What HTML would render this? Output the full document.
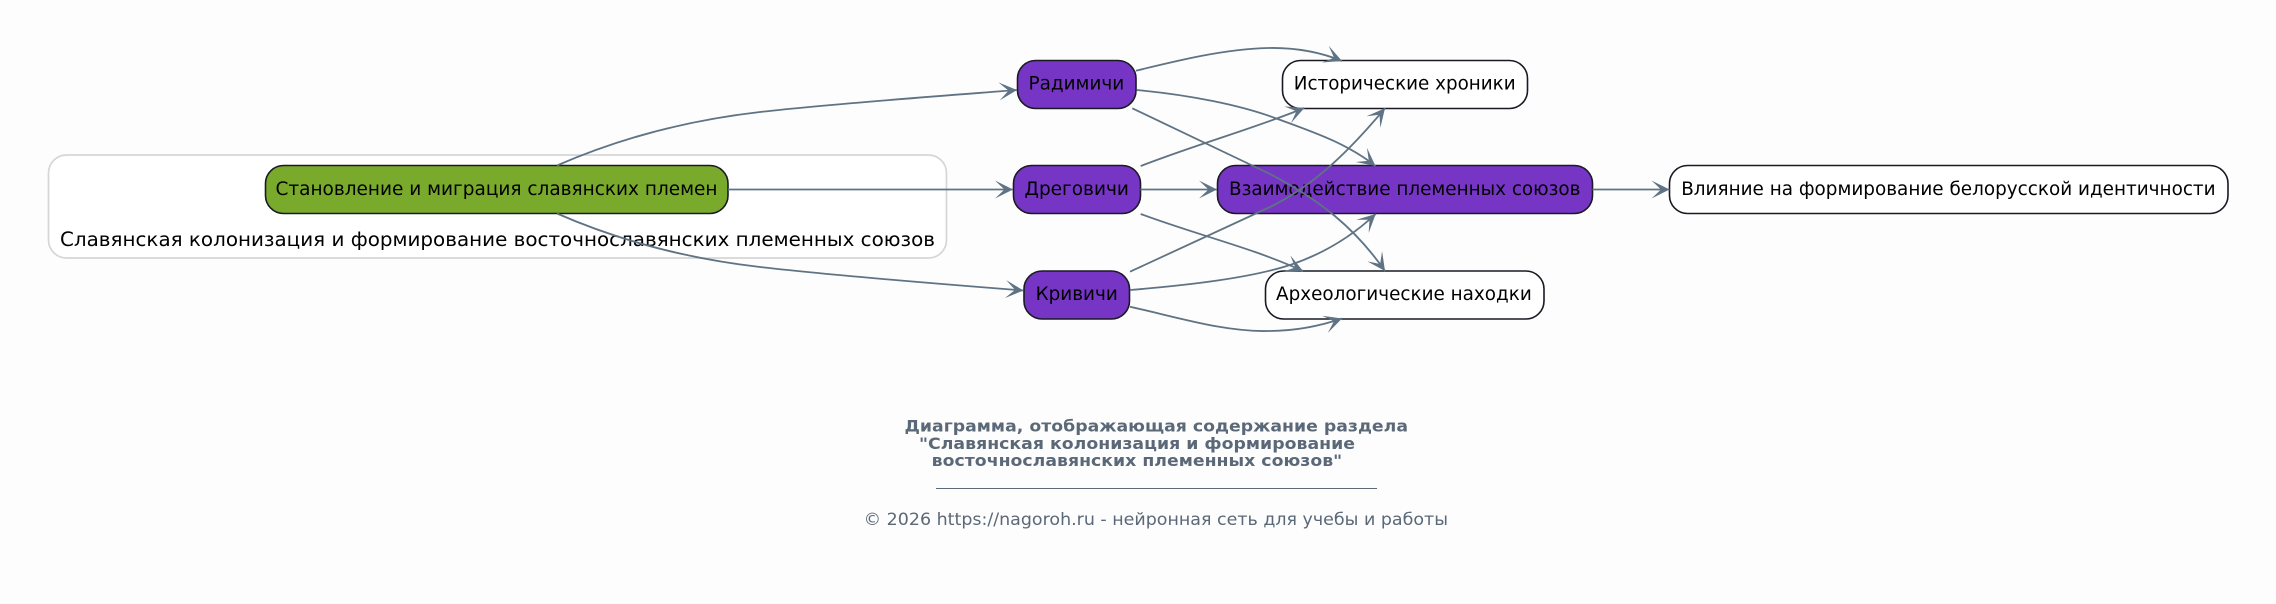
<!DOCTYPE html>
<html><head><meta charset="utf-8">
<style>
html,body{margin:0;padding:0;background:#fdfdfd;width:2276px;height:604px;overflow:hidden}
svg{display:block}
text{font-family:"DejaVu Sans","Liberation Sans",sans-serif;fill:#000;font-size:18.7px}
.e{fill:none;stroke:#5f7384;stroke-width:1.8;marker-end:url(#a)}
.n{stroke:#1a1a24;stroke-width:1.6}
.t{fill:#5a6878}
</style></head><body>
<svg width="2276" height="604" viewBox="0 0 2276 604" xmlns="http://www.w3.org/2000/svg">
<defs><marker id="a" markerUnits="userSpaceOnUse" markerWidth="24" markerHeight="24" refX="20" refY="12" orient="auto"><path d="M20 12 L2 3 L11.5 12 L2 21 Z" fill="#5f7384"/></marker></defs>
<rect width="2276" height="604" fill="#fdfdfd"/>
<rect x="48.5" y="155" width="898" height="103" rx="18" fill="#fff" stroke="#d6d6d6" stroke-width="1.7"/>
<rect class="n" x="265.5" y="165.5" width="462.5" height="48" rx="18" fill="#7aaa2c"/>
<rect class="n" x="1017.5" y="60.5" width="118.5" height="48" rx="18" fill="#7635c4"/>
<rect class="n" x="1013.5" y="165.5" width="127" height="48" rx="18" fill="#7635c4"/>
<rect class="n" x="1024" y="271" width="105.5" height="48" rx="18" fill="#7635c4"/>
<rect class="n" x="1217.5" y="165.5" width="375" height="48" rx="18" fill="#7635c4"/>
<rect class="n" x="1282.5" y="60.5" width="245" height="48" rx="18" fill="#fff"/>
<rect class="n" x="1265.5" y="271" width="278.5" height="48" rx="18" fill="#fff"/>
<rect class="n" x="1669.5" y="165.5" width="558.5" height="48" rx="18" fill="#fff"/>
<text x="275.5" y="195" textLength="442" lengthAdjust="spacingAndGlyphs">Становление и миграция славянских племен</text>
<text x="60" y="246" textLength="875" lengthAdjust="spacingAndGlyphs" style="font-size:19.6px">Славянская колонизация и формирование восточнославянских племенных союзов</text>
<text x="1028.5" y="89.5" textLength="95.7" lengthAdjust="spacingAndGlyphs">Радимичи</text>
<text x="1024.5" y="195" textLength="104.4" lengthAdjust="spacingAndGlyphs">Дреговичи</text>
<text x="1035.6" y="300" textLength="82.2" lengthAdjust="spacingAndGlyphs">Кривичи</text>
<text x="1293.8" y="89.5" textLength="221.8" lengthAdjust="spacingAndGlyphs">Исторические хроники</text>
<text x="1229" y="195" textLength="351.5" lengthAdjust="spacingAndGlyphs">Взаимодействие племенных союзов</text>
<text x="1276" y="300" textLength="255.8" lengthAdjust="spacingAndGlyphs">Археологические находки</text>
<text x="1681.2" y="195" textLength="534.4" lengthAdjust="spacingAndGlyphs">Влияние на формирование белорусской идентичности</text>
<path class="e" d="M557 165.5 C620 138 690 120 760 112 S940 96 1017 90"/>
<path class="e" d="M728 189.5 L1013 189.5"/>
<path class="e" d="M557 213.5 C620 241 690 259 760 267 S940 284 1023.5 290.5"/>
<path class="e" d="M1136 70.7 C1180 60 1225 49 1268 48 C1295 47.5 1320 52 1342 61"/>
<path class="e" d="M1136.7 90 C1190 95 1240 105 1275 118 C1310 131 1345 142 1375.5 166"/>
<path class="e" d="M1132.3 108.3 L1270 174 C1320 200 1355 228 1385 271"/>
<path class="e" d="M1140.7 166 C1200 143 1250 130 1304.3 108"/>
<path class="e" d="M1140.4 189.5 L1217 189.5"/>
<path class="e" d="M1140.7 214 C1200 236 1250 247 1303 271"/>
<path class="e" d="M1130 271.7 L1270 207 C1315 185 1350 150 1385 108.3"/>
<path class="e" d="M1130 290 C1190 285 1250 278 1290 265 C1320 255 1350 238 1375.7 214"/>
<path class="e" d="M1130 306.7 C1180 318 1225 332 1268 331 C1295 331 1320 326 1342 318.5"/>
<path class="e" d="M1592.5 189.5 L1669.5 189.5"/>
<text class="t" x="904.5" y="431.5" textLength="503.5" lengthAdjust="spacingAndGlyphs" style="font-size:16px;font-weight:bold">Диаграмма, отображающая содержание раздела</text>
<text class="t" x="919" y="449" textLength="436" lengthAdjust="spacingAndGlyphs" style="font-size:16px;font-weight:bold">"Славянская колонизация и формирование</text>
<text class="t" x="931.7" y="466" textLength="410.5" lengthAdjust="spacingAndGlyphs" style="font-size:16px;font-weight:bold">восточнославянских племенных союзов"</text>
<line x1="936" x2="1377" y1="488.5" y2="488.5" stroke="#5a6878" stroke-width="1"/>
<text class="t" x="863.7" y="525" textLength="584.3" lengthAdjust="spacingAndGlyphs" style="font-size:17px">© 2026 https://nagoroh.ru - нейронная сеть для учебы и работы</text>
</svg>
</body></html>
